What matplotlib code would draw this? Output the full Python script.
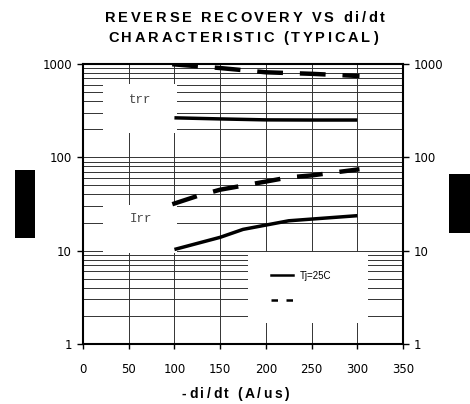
import matplotlib
matplotlib.use("Agg")
import matplotlib.pyplot as plt
import numpy as np
from matplotlib.font_manager import FontProperties
from matplotlib.lines import Line2D
from matplotlib.patches import Rectangle
from matplotlib.ticker import FixedLocator, LogLocator, NullFormatter

# --- data ---
trr_x = [100, 150, 200, 250, 300]
trr_25 = [265, 258, 252, 251, 251]
trr_hot = [990, 905, 815, 785, 745]

irr_x25 = [100, 150, 175, 200, 225, 250, 300]
irr_25 = [10.3, 13.9, 16.9, 18.8, 20.9, 21.8, 23.7]
irr_xhot = [100, 125, 150, 200, 225, 250, 300]
irr_hot = [32, 38.5, 45, 55, 61, 64, 74]

x_ticks = [0, 50, 100, 150, 200, 250, 300, 350]
y_ticks = [1, 10, 100, 1000]
y_labels = ["1", "10", "100", "1000"]
legend_labels = ["Tj=25C", ""]

W, H, DPI = 470, 404, 100
fig = plt.figure(figsize=(W / DPI, H / DPI), dpi=DPI)
ax = fig.add_axes([83 / W, 60 / H, 320 / W, 280 / H])

sans = ["Liberation Sans", "DejaVu Sans"]
plt.rcParams["font.family"] = sans

ax.set_yscale("log")
ax.set_xlim(0, 350)
ax.set_ylim(1, 1000)

ax.xaxis.set_major_locator(FixedLocator(x_ticks))
ax.set_xticklabels([str(v) for v in x_ticks])
ax.yaxis.set_major_locator(FixedLocator(y_ticks))
ax.set_yticklabels(y_labels)
ax.yaxis.set_minor_locator(LogLocator(base=10, subs=np.arange(2, 10)))
ax.yaxis.set_minor_formatter(NullFormatter())

ax.grid(which="both", axis="y", color="#333333", lw=0.7, zorder=1)
ax.grid(which="major", axis="x", color="#333333", lw=0.7, zorder=1)
ax.set_axisbelow(True)

ax.tick_params(axis="y", which="major", direction="out", length=4, width=1,
               labelsize=8.5, pad=4, right=True, labelright=True)
ax.tick_params(axis="y", which="minor", length=0)
ax.tick_params(axis="x", direction="out", length=3.5, width=1, labelsize=8.5, pad=10)
for sp in ax.spines.values():
    sp.set_linewidth(1.5)

# white boxes hiding grid behind the labels / legend
for (x0, y0, w, h) in [(0.064, 0.754, 0.23, 0.175),
                       (0.064, 0.325, 0.23, 0.172),
                       (0.516, 0.075, 0.375, 0.252)]:
    ax.add_patch(Rectangle((x0, y0), w, h, transform=ax.transAxes,
                           facecolor="white", edgecolor="none", zorder=2))

dash = (0, (4.8, 4.8))
ax.plot(trr_x, trr_25, color="black", lw=2.5, zorder=3, solid_capstyle="butt")
ax.plot(trr_x, trr_hot, color="black", lw=3.2, ls=dash, dash_capstyle="projecting", zorder=3)
ax.plot(irr_x25, irr_25, color="black", lw=2.5, zorder=3, solid_capstyle="butt")
ax.plot(irr_xhot, irr_hot, color="black", lw=3.2, ls=dash, dash_capstyle="projecting", zorder=3)

mono = FontProperties(family=["Liberation Mono", "DejaVu Sans Mono"], size=9)
ax.text(0.18, 0.87, "trr", transform=ax.transAxes, ha="center", va="center",
        fontproperties=mono, color="#444444", zorder=4)
ax.text(0.18, 0.445, "Irr", transform=ax.transAxes, ha="center", va="center",
        fontproperties=mono, color="#444444", zorder=4)

handles = [Line2D([], [], color="black", lw=1.8),
           Line2D([], [], color="black", lw=1.8, ls=(0, (2.6, 3.4)))]
leg = ax.legend(handles, legend_labels, loc="upper left", bbox_to_anchor=(0.587, 0.262),
                frameon=False, fontsize=7, handlelength=2.3, handletextpad=0.7,
                labelspacing=1.5, borderpad=0, borderaxespad=0)
leg.set_zorder(5)

# black boxes at both sides
for (x0, y0, x1, y1) in [(15, 170, 34.5, 238), (449, 174, 470, 233)]:
    fig.patches.append(Rectangle((x0 / W, 1 - y1 / H), (x1 - x0) / W, (y1 - y0) / H,
                                 transform=fig.transFigure, facecolor="black",
                                 edgecolor="none"))


def spaced_text(s, left, right, base, size):
    # letter-spaced bold line spanning left..right (pixels from top-left)
    prop = FontProperties(family=sans, weight="bold", size=size)
    renderer = fig.canvas.get_renderer()
    widths = []
    for c in s:
        if c == " ":
            widths.append(0.25 * size * DPI / 72)
        else:
            t = fig.text(0, 0, c, fontproperties=prop)
            widths.append(t.get_window_extent(renderer).width)
            t.remove()
    gap = (right - left - sum(widths)) / (len(s) - 1)
    x = left
    for c, w in zip(s, widths):
        if c != " ":
            fig.text(x / W, 1 - base / H, c, fontproperties=prop, ha="left", va="baseline")
        x += w + gap


spaced_text("REVERSE RECOVERY VS di/dt", 105, 385, 21.5, 10.5)
spaced_text("CHARACTERISTIC (TYPICAL)", 108, 378, 42, 10.5)
spaced_text("-di/dt (A/us)", 182, 289, 398, 10)

fig.savefig("out.png", dpi=DPI)
